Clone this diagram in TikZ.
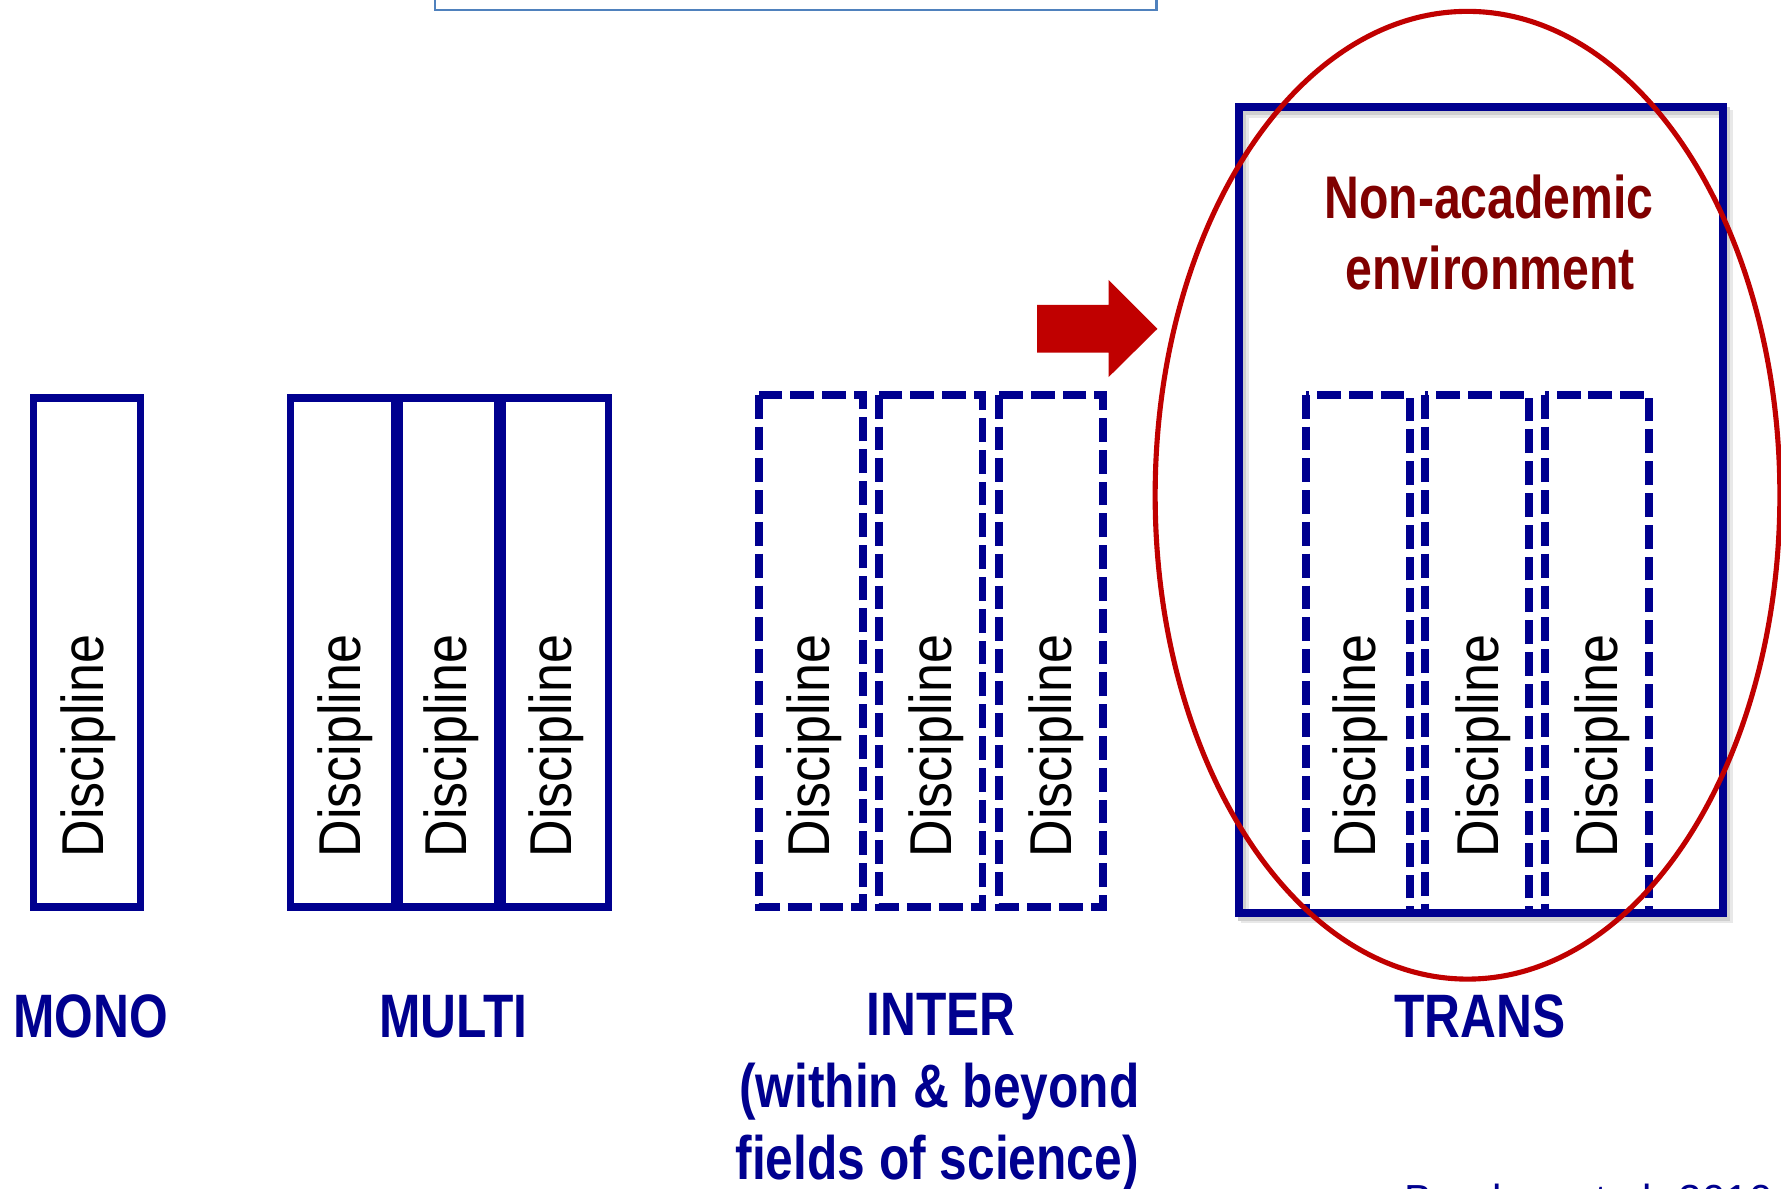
\documentclass[tikz,border=0pt]{standalone}
\usepackage{fontspec}
\setmainfont{Liberation Sans}
\definecolor{navy}{RGB}{0,0,143}
\definecolor{darkred}{RGB}{128,0,0}
\definecolor{brightred}{RGB}{192,0,0}
\definecolor{topblue}{RGB}{79,129,189}
\begin{document}
\begin{tikzpicture}[x=1pt,y=-1pt,
  solidbox/.style={draw=navy,line width=6.5pt},
  dashbox/.style={draw=navy,line width=7pt,dash pattern=on 21pt off 7pt},
  disc/.style={rotate=90,anchor=base west,inner sep=0pt,text=black,
    font=\fontsize{52}{60}\selectfont},
  lab/.style={text=navy,font=\bfseries\fontsize{54}{63.5}\selectfont,inner sep=0pt,anchor=base},
  redlab/.style={text=darkred,font=\bfseries\fontsize{53}{63}\selectfont,inner sep=0pt,anchor=base},
]
\useasboundingbox (0,0) rectangle (1568,1046);
\clip (0,0) rectangle (1568,1046);
\fill[white] (0,0) rectangle (1568,1046);

% top box (partly visible)
\draw[draw=topblue,line width=2.2pt] (383,-20) rectangle (1018,9);

% MONO
\draw[solidbox] (29.5,350.5) rectangle (123.5,798.5);
\node[disc] (d0) at (91.5,755) {\scalebox{0.88}[1]{Discipline}};
\node[lab] (mono) at (80,913) {\scalebox{0.81}[1]{MONO}};

% MULTI
\draw[solidbox] (255.5,350.5) rectangle (347.5,798.5);
\draw[solidbox] (351.5,350.5) rectangle (438,798.5);
\draw[solidbox] (442,350.5) rectangle (535.5,798.5);
\node[disc] (d1) at (317,755) {\scalebox{0.88}[1]{Discipline}};
\node[disc] (d2) at (411,755) {\scalebox{0.88}[1]{Discipline}};
\node[disc] (d3) at (503,755) {\scalebox{0.88}[1]{Discipline}};
\node[lab] (multi) at (399,913) {\scalebox{0.81}[1]{MULTI}};

% INTER
\draw[dashbox] (668.5,347.5) rectangle (759.5,798.5);
\draw[dashbox] (773.5,347.5) rectangle (865,798.5);
\draw[dashbox] (879.5,347.5) rectangle (971,798.5);
\node[disc] (d4) at (730,755) {\scalebox{0.88}[1]{Discipline}};
\node[disc] (d5) at (838,755) {\scalebox{0.88}[1]{Discipline}};
\node[disc] (d6) at (943,755) {\scalebox{0.88}[1]{Discipline}};
\node[lab] (inter1) at (828.5,912) {\scalebox{0.81}[1]{INTER}};
\node[lab] (inter2) at (827,975) {\scalebox{0.81}[1]{(within \& beyond}};
\node[lab] (inter3) at (825,1038) {\scalebox{0.81}[1]{fields of science)}};

% arrow
\fill[brightred] (913,268.5) -- (976,268.5) -- (976,246.5) -- (1019,289.5)
  -- (976,332) -- (976,310.5) -- (913,310.5) -- cycle;

% TRANS outer box with shadow
\draw[draw=gray!18,line width=7pt] (1096,100) rectangle (1522.5,809.5);
\draw[draw=gray!38,line width=7pt] (1093.5,98) rectangle (1520,807.5);
\draw[solidbox,line width=7pt] (1090.5,94.5) rectangle (1517,803.5);
\node[redlab] (nonac1) at (1311,192) {\scalebox{0.8}[1]{Non-academic}};
\node[redlab] (nonac2) at (1312,255) {\scalebox{0.8}[1]{environment}};
\draw[dashbox] (1149.5,347.5) rectangle (1241,803.5);
\draw[dashbox] (1254.5,347.5) rectangle (1346,803.5);
\draw[dashbox] (1360.5,347.5) rectangle (1452,803.5);
\node[disc] (d7) at (1211,755) {\scalebox{0.88}[1]{Discipline}};
\node[disc] (d8) at (1319,755) {\scalebox{0.88}[1]{Discipline}};
\node[disc] (d9) at (1424,755) {\scalebox{0.88}[1]{Discipline}};
\node[lab] (trans) at (1303,913) {\scalebox{0.81}[1]{TRANS}};

% ellipse
\draw[draw=brightred,line width=4.5pt] (1292,436) ellipse [x radius=275, y radius=426];

% citation (cut off at the bottom)
\node[anchor=base west,inner sep=0pt,text=navy,font=\fontsize{37}{44}\selectfont]
  (cite) at (1236,1069.5) {Bunders et al. 2010};
\end{tikzpicture}
\end{document}
